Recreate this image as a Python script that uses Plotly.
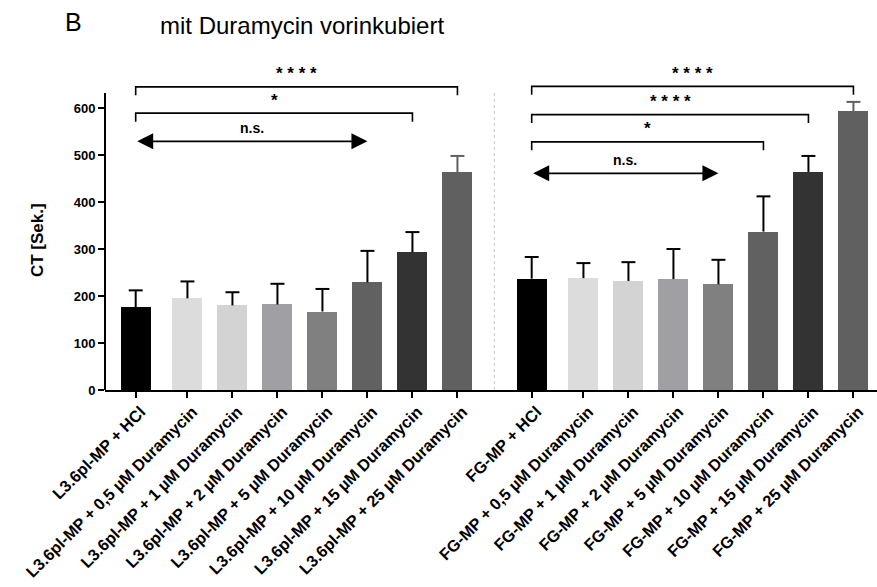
import plotly.graph_objects as go

# ---------------- data ----------------
left_labels = ["L3.6pl-MP + HCl", "L3.6pl-MP + 0,5 µM Duramycin", "L3.6pl-MP + 1 µM Duramycin",
               "L3.6pl-MP + 2 µM Duramycin", "L3.6pl-MP + 5 µM Duramycin", "L3.6pl-MP + 10 µM Duramycin",
               "L3.6pl-MP + 15 µM Duramycin", "L3.6pl-MP + 25 µM Duramycin"]
right_labels = ["FG-MP + HCl", "FG-MP + 0,5 µM Duramycin", "FG-MP + 1 µM Duramycin",
                "FG-MP + 2 µM Duramycin", "FG-MP + 5 µM Duramycin", "FG-MP + 10 µM Duramycin",
                "FG-MP + 15 µM Duramycin", "FG-MP + 25 µM Duramycin"]
left_mean = [176, 195, 180, 182, 167, 229, 293, 463]
left_err = [36, 36, 28, 44, 48, 67, 43, 35]
right_mean = [237, 238, 232, 236, 225, 337, 464, 593]
right_err = [46, 32, 40, 64, 52, 75, 34, 20]
y_ticks = [0, 100, 200, 300, 400, 500, 600]

bar_colors = ["#000000", "#dcdcdc", "#d3d3d3", "#a0a0a4", "#808080", "#616161", "#333333", "#606060"]
err_colors = ["#000000"] * 7 + ["#606060"]

# significance brackets: (group, from index, to index, y level, label)
brackets = [(0, 0, 7, 645, "* * * *"), (0, 0, 6, 589, "*"),
            (1, 0, 7, 646, "* * * *"), (1, 0, 6, 586, "* * * *"), (1, 0, 5, 528, "*")]
# n.s. double arrows: (group, from index, to index, y level, label)
arrows = [(0, 0, 5, 529, "n.s."), (1, 0, 4, 461, "n.s.")]

# ---------------- layout helpers ----------------
within = [0, 1.15, 2.15, 3.15, 4.15, 5.15, 6.15, 7.15]
group_start = [0, 8.8]
positions = [[g + w for w in within] for g in group_start]
separator_x = 7.97
Y_AXIS_TOP = 632
CAP = 0.155          # half cap width in x units
FONT = "Liberation Sans"

fig = go.Figure()
groups = [(left_mean, left_err, left_labels), (right_mean, right_err, right_labels)]
for gi, (means, errs, labels) in enumerate(groups):
    for i in range(len(means)):
        fig.add_trace(go.Bar(
            x=[positions[gi][i]], y=[means[i]], width=0.667,
            marker=dict(color=bar_colors[i], line=dict(width=0)),
            showlegend=False, hoverinfo="skip"))

# upper error whiskers
for gi, (means, errs, labels) in enumerate(groups):
    for i in range(len(means)):
        xc = positions[gi][i]
        top = means[i] + errs[i]
        fig.add_trace(go.Scatter(
            x=[xc, xc, None, xc - CAP, xc + CAP], y=[means[i], top, None, top, top],
            mode="lines", line=dict(color=err_colors[i], width=2),
            showlegend=False, hoverinfo="skip"))

shapes = []
annotations = []
# y axis line (shorter than plot area)
shapes.append(dict(type="line", xref="paper", yref="y", x0=0, x1=0, y0=0, y1=Y_AXIS_TOP,
                   line=dict(color="black", width=2)))
# dotted separator
shapes.append(dict(type="line", xref="x", yref="y", x0=separator_x, x1=separator_x, y0=0, y1=Y_AXIS_TOP,
                   line=dict(color="#c8c8c8", width=1, dash="dot"), layer="below"))

for g, a, b, yv, lab in brackets:
    xa, xb = positions[g][a], positions[g][b]
    shapes.append(dict(type="path", xref="x", yref="y",
                       path=f"M {xa},{yv-18} L {xa},{yv} L {xb},{yv} L {xb},{yv-18}",
                       line=dict(color="black", width=1.6)))
    annotations.append(dict(x=(xa + xb) / 2, y=yv + 3, xref="x", yref="y", text=lab, showarrow=False,
                            yanchor="bottom", font=dict(family=FONT, size=17, color="black", weight="bold")))

for g, a, b, yv, lab in arrows:
    xa, xb = positions[g][a], positions[g][b]
    annotations.append(dict(x=xb, y=yv, ax=xa, ay=yv, xref="x", yref="y", axref="x", ayref="y",
                            text="", showarrow=True, arrowhead=2, startarrowhead=2, arrowside="end+start",
                            arrowsize=2, arrowwidth=1.6, arrowcolor="black", standoff=0, startstandoff=0))
    annotations.append(dict(x=(xa + xb) / 2, y=yv + 8, xref="x", yref="y", text=lab, showarrow=False,
                            yanchor="bottom", font=dict(family=FONT, size=14, color="black", weight="bold")))

# y title
annotations.append(dict(x=(37 - 105) / 772, y=319, xref="paper", yref="y", text="CT [Sek.]",
                        textangle=-90, showarrow=False, xanchor="center", yanchor="middle",
                        font=dict(family=FONT, size=17, color="black", weight="bold")))
# panel titles
annotations.append(dict(x=(63 - 105) / 772, y=(390 - 22) / 329, xref="paper", yref="paper", text="B",
                        showarrow=False, xanchor="left", yanchor="middle",
                        font=dict(family=FONT, size=25, color="black")))
annotations.append(dict(x=(158 - 105) / 772, y=(390 - 25) / 329, xref="paper", yref="paper",
                        text="mit Duramycin vorinkubiert", showarrow=False, xanchor="left", yanchor="middle",
                        font=dict(family=FONT, size=24, color="black")))

all_pos = positions[0] + positions[1]
all_labels = left_labels + right_labels

fig.update_layout(
    width=877, height=587,
    margin=dict(l=105, r=0, t=61, b=197, autoexpand=False),
    plot_bgcolor="white", paper_bgcolor="white",
    shapes=shapes, annotations=annotations,
    xaxis=dict(range=[-0.682, -0.682 + 772 / 45], tickvals=all_pos, ticktext=all_labels,
               tickangle=-45, ticks="outside", ticklen=6, tickwidth=2, tickcolor="black",
               showline=True, linecolor="black", linewidth=2, showgrid=False, zeroline=False,
               automargin=False, ticklabeloverflow="allow", ticklabelshift=5, ticklabelstandoff=-2,
               tickfont=dict(family=FONT, size=16.3, color="black", weight="bold")),
    yaxis=dict(range=[0, 700], tickvals=y_ticks, ticks="outside", ticklen=6, tickwidth=2,
               tickcolor="black", showline=False, showgrid=False, zeroline=False, automargin=False,
               tickfont=dict(family=FONT, size=13, color="black", weight="bold")),
    bargap=0,
)

fig.write_html("out.html")
